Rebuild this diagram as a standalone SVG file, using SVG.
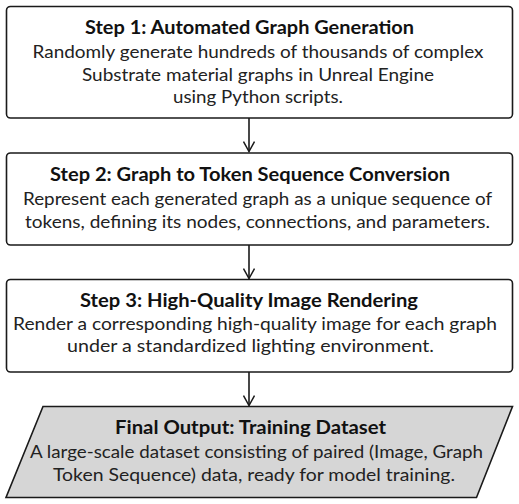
<svg xmlns="http://www.w3.org/2000/svg" width="519" height="504" viewBox="0 0 519 504">
<defs>
<style>
.box{fill:#ffffff;stroke:#1a1a1a;stroke-width:1.6}
.out{fill:#d6d6d6;stroke:#1a1a1a;stroke-width:1.6}
.t{font-family:Lato,"Liberation Sans",sans-serif;font-weight:bold;font-size:18.5px;fill:#111;text-anchor:middle}
.b{font-family:Lato,"Liberation Sans",sans-serif;font-size:17.5px;fill:#222;text-anchor:middle}
.c{stroke:#1a1a1a;stroke-width:1.6;fill:none;marker-end:url(#arr)}
</style>
<marker id="arr" viewBox="0 0 12 12" refX="11" refY="6" markerWidth="12" markerHeight="12" markerUnits="userSpaceOnUse" orient="auto">
<path d="M1,0.5 L11,6 L1,11.5" fill="none" stroke="#1a1a1a" stroke-width="1.5"/>
</marker>
</defs>
<rect width="519" height="504" fill="#ffffff"/>
<g id="connectors">
<line class="c" x1="249" y1="118" x2="249" y2="151.5"/>
<line class="c" x1="249" y1="245" x2="249" y2="278.5"/>
<line class="c" x1="249" y1="372" x2="249" y2="405.5"/>
</g>
<g id="step1">
<rect class="box" x="6.5" y="6.5" width="506" height="111.5" rx="4"/>
<text class="t" x="249.5" y="34" textLength="329" lengthAdjust="spacingAndGlyphs">Step 1: Automated Graph Generation</text>
<text class="b" x="258" y="58" textLength="451" lengthAdjust="spacingAndGlyphs">Randomly generate hundreds of thousands of complex</text>
<text class="b" x="258" y="80.5" textLength="352" lengthAdjust="spacingAndGlyphs">Substrate material graphs in Unreal Engine</text>
<text class="b" x="258" y="103" textLength="170" lengthAdjust="spacingAndGlyphs">using Python scripts.</text>
</g>
<g id="step2">
<rect class="box" x="6.5" y="153" width="506" height="92" rx="4"/>
<text class="t" x="250" y="180.5" textLength="400" lengthAdjust="spacingAndGlyphs">Step 2: Graph to Token Sequence Conversion</text>
<text class="b" x="257.5" y="205" textLength="469" lengthAdjust="spacingAndGlyphs">Represent each generated graph as a unique sequence of</text>
<text class="b" x="257.5" y="227.5" textLength="465" lengthAdjust="spacingAndGlyphs">tokens, defining its nodes, connections, and parameters.</text>
</g>
<g id="step3">
<rect class="box" x="6.5" y="279.5" width="506" height="92.5" rx="4"/>
<text class="t" x="249" y="307" textLength="338" lengthAdjust="spacingAndGlyphs">Step 3: High-Quality Image Rendering</text>
<text class="b" x="255" y="329.5" textLength="484" lengthAdjust="spacingAndGlyphs">Render a corresponding high-quality image for each graph</text>
<text class="b" x="250.5" y="352" textLength="367" lengthAdjust="spacingAndGlyphs">under a standardized lighting environment.</text>
</g>
<g id="final">
<polygon class="out" points="43,406.5 512.5,406.5 476.5,497.5 6,497.5"/>
<text class="t" x="250.5" y="434.3" textLength="271" lengthAdjust="spacingAndGlyphs">Final Output: Training Dataset</text>
<text class="b" x="256.5" y="458.3" textLength="453" lengthAdjust="spacingAndGlyphs">A large-scale dataset consisting of paired (Image, Graph</text>
<text class="b" x="254" y="480.5" textLength="402" lengthAdjust="spacingAndGlyphs">Token Sequence) data, ready for model training.</text>
</g>
</svg>
